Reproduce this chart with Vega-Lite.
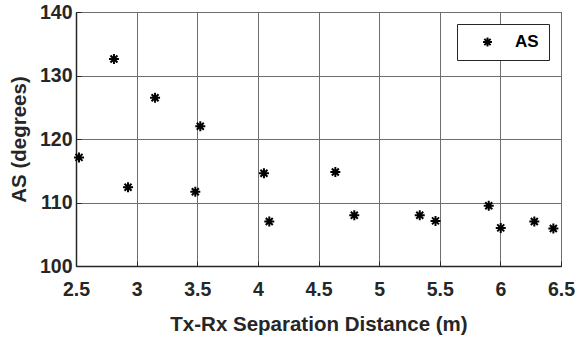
{
  "$schema": "https://vega.github.io/schema/vega-lite/v6.json",
  "autosize": "none",
  "width": 485,
  "height": 254,
  "padding": {"left": 76, "top": 12, "right": 14, "bottom": 79},
  "background": "white",
  "config": {
    "view": {"stroke": "#262626", "strokeWidth": 1},
    "font": "Liberation Sans",
    "axis": {
      "labelFont": "Liberation Sans",
      "labelFontWeight": 700,
      "labelFontSize": 19.5,
      "labelColor": "#262626",
      "titleFont": "Liberation Sans",
      "titleFontWeight": 700,
      "titleFontSize": 20.5,
      "titleColor": "#262626",
      "domainColor": "#262626",
      "domainWidth": 1.5,
      "tickColor": "#262626",
      "tickSize": -5,
      "gridColor": "#6e6e6e",
      "gridOpacity": 1,
      "gridWidth": 1
    }
  },
  "data": {
    "values": [
      {"d": 2.525, "as": 117.1, "s": "AS"},
      {"d": 2.813, "as": 132.6, "s": "AS"},
      {"d": 2.929, "as": 112.4, "s": "AS"},
      {"d": 3.152, "as": 126.5, "s": "AS"},
      {"d": 3.525, "as": 122.0, "s": "AS"},
      {"d": 3.484, "as": 111.7, "s": "AS"},
      {"d": 4.05, "as": 114.6, "s": "AS"},
      {"d": 4.094, "as": 107.0, "s": "AS"},
      {"d": 4.639, "as": 114.8, "s": "AS"},
      {"d": 4.795, "as": 108.0, "s": "AS"},
      {"d": 5.335, "as": 108.0, "s": "AS"},
      {"d": 5.465, "as": 107.1, "s": "AS"},
      {"d": 5.904, "as": 109.5, "s": "AS"},
      {"d": 6.003, "as": 106.0, "s": "AS"},
      {"d": 6.28, "as": 107.0, "s": "AS"},
      {"d": 6.437, "as": 105.9, "s": "AS"}
    ]
  },
  "mark": {
    "type": "point",
    "shape": "M0,-1L0,1M-1,0L1,0M-0.7,-0.7L0.7,0.7M-0.7,0.7L0.7,-0.7",
    "filled": false,
    "stroke": "black",
    "strokeWidth": 2,
    "size": 100,
    "opacity": 1,
    "clip": false
  },
  "encoding": {
    "x": {
      "field": "d",
      "type": "quantitative",
      "scale": {"domain": [2.5, 6.5], "nice": false, "zero": false},
      "axis": {
        "values": [2.5, 3, 3.5, 4, 4.5, 5, 5.5, 6, 6.5],
        "format": "~g",
        "title": "Tx-Rx Separation Distance (m)",
        "labelFlush": false,
        "labelPadding": 19,
        "titlePadding": 16
      }
    },
    "y": {
      "field": "as",
      "type": "quantitative",
      "scale": {"domain": [100, 140], "nice": false, "zero": false},
      "axis": {
        "values": [100, 110, 120, 130, 140],
        "title": "AS (degrees)",
        "labelFlush": false,
        "labelPadding": 9,
        "titlePadding": 10
      }
    },
    "shape": {
      "field": "s",
      "type": "nominal",
      "scale": {"range": ["M0,-1L0,1M-1,0L1,0M-0.7,-0.7L0.7,0.7M-0.7,0.7L0.7,-0.7"]},
      "legend": {
        "title": null,
        "orient": "none",
        "legendX": 381,
        "legendY": 12,
        "padding": 9.5,
        "strokeColor": "#262626",
        "fillColor": "white",
        "symbolOffset": 12.5,
        "symbolSize": 80,
        "symbolStrokeColor": "black",
        "symbolStrokeWidth": 2,
        "symbolFillColor": "transparent",
        "labelFont": "Liberation Sans",
        "labelFontWeight": 700,
        "labelFontSize": 17,
        "labelColor": "black",
        "labelOffset": 19,
        "labelLimit": 40,
        "rowPadding": 0
      }
    }
  }
}
